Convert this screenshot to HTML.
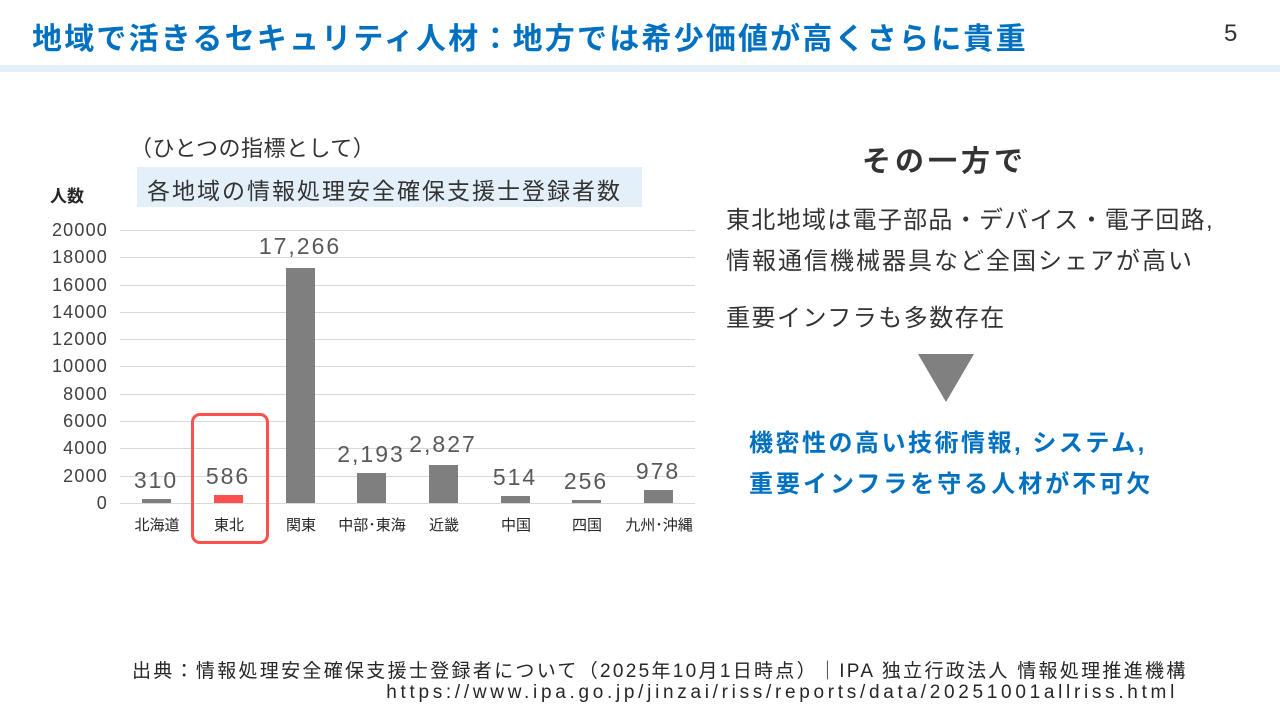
<!DOCTYPE html>
<html><head><meta charset="utf-8"><style>
body{margin:0;width:1280px;height:720px;background:#fff;position:relative;overflow:hidden;font-family:"Liberation Sans","Noto Sans CJK JP",sans-serif;}
.a{position:absolute;white-space:nowrap;}
.yl{position:absolute;right:1172px;font-size:18px;letter-spacing:1.2px;color:#404040;line-height:17px;}
.g{position:absolute;left:120px;width:575px;height:1px;background:#d9d9d9;}
.bar{position:absolute;width:29px;background:#7f7f7f;}
.v{position:absolute;width:100px;text-align:center;font-size:23px;letter-spacing:2px;color:#595959;}
.c{position:absolute;width:90px;text-align:center;font-size:15px;color:#262626;top:514px;}
</style></head><body>
<div class="a" style="left:32px;top:14px;font-size:30px;letter-spacing:2.2px;font-weight:bold;color:#0070c0;">地域で活きるセキュリティ人材：地方では希少価値が高くさらに貴重</div>
<div class="a" style="left:1224px;top:20px;font-size:24px;color:#333;">5</div>
<div class="a" style="left:0;top:65px;width:1280px;height:7px;background:#e3f0fa;"></div>

<div class="a" style="left:130px;top:131px;font-size:22px;letter-spacing:0.5px;color:#333;">（ひとつの指標として）</div>
<div class="a" style="left:137px;top:167px;width:505px;height:40px;background:#e3f0fa;"></div>
<div class="a" style="left:147px;top:172px;font-size:23px;letter-spacing:2px;color:#333;">各地域の情報処理安全確保支援士登録者数</div>
<div class="a" style="left:50px;top:182px;font-size:17px;font-weight:bold;color:#262626;">人数</div>

<div class="g" style="top:230px"></div><div class="g" style="top:257px"></div><div class="g" style="top:285px"></div><div class="g" style="top:312px"></div><div class="g" style="top:339px"></div><div class="g" style="top:366px"></div><div class="g" style="top:394px"></div><div class="g" style="top:421px"></div><div class="g" style="top:448px"></div><div class="g" style="top:476px"></div><div class="g" style="top:503px"></div>
<div class="yl" style="top:222px">20000</div><div class="yl" style="top:249px">18000</div><div class="yl" style="top:277px">16000</div><div class="yl" style="top:304px">14000</div><div class="yl" style="top:331px">12000</div><div class="yl" style="top:358px">10000</div><div class="yl" style="top:386px">8000</div><div class="yl" style="top:413px">6000</div><div class="yl" style="top:440px">4000</div><div class="yl" style="top:468px">2000</div><div class="yl" style="top:495px">0</div>

<div class="bar" style="left:142px;top:499px;height:4px"></div>
<div class="bar" style="left:214px;top:495px;height:8px;background:#ff5050"></div>
<div class="bar" style="left:286px;top:268px;height:235px"></div>
<div class="bar" style="left:357px;top:473px;height:30px"></div>
<div class="bar" style="left:429px;top:465px;height:38px"></div>
<div class="bar" style="left:501px;top:496px;height:7px"></div>
<div class="bar" style="left:572px;top:500px;height:3px"></div>
<div class="bar" style="left:644px;top:490px;height:13px"></div>

<div class="v" style="left:106px;top:467px">310</div>
<div class="v" style="left:178px;top:463px">586</div>
<div class="v" style="left:250px;top:233px">17,266</div>
<div class="v" style="left:321px;top:441px">2,193</div>
<div class="v" style="left:393px;top:431px">2,827</div>
<div class="v" style="left:465px;top:464px">514</div>
<div class="v" style="left:536px;top:468px">256</div>
<div class="v" style="left:608px;top:458px">978</div>

<div class="c" style="left:112px">北海道</div>
<div class="c" style="left:184px">東北</div>
<div class="c" style="left:256px">関東</div>
<div class="c" style="left:327px">中部･東海</div>
<div class="c" style="left:399px">近畿</div>
<div class="c" style="left:471px">中国</div>
<div class="c" style="left:542px">四国</div>
<div class="c" style="left:614px">九州･沖縄</div>
<div class="a" style="left:191px;top:413px;width:78px;height:131px;border:3px solid #ff5050;border-radius:9px;box-sizing:border-box;"></div>

<div class="a" style="left:862px;top:138px;font-size:29px;letter-spacing:4px;font-weight:bold;color:#333;">その一方で</div>
<div class="a" style="left:726px;top:200px;font-size:24px;letter-spacing:1.3px;color:#333;">東北地域は電子部品・デバイス・電子回路,</div>
<div class="a" style="left:726px;top:241px;font-size:24px;letter-spacing:2px;color:#333;">情報通信機械器具など全国シェアが高い</div>
<div class="a" style="left:726px;top:298px;font-size:24px;letter-spacing:1.5px;color:#333;">重要インフラも多数存在</div>
<svg class="a" style="left:918px;top:354px" width="56" height="48"><polygon points="0,0 56,0 28,48" fill="#808080"/></svg>
<div class="a" style="left:749px;top:423px;font-size:24px;letter-spacing:2.5px;font-weight:bold;color:#0070c0;">機密性の高い技術情報, システム,</div>
<div class="a" style="left:749px;top:464px;font-size:24px;letter-spacing:3px;font-weight:bold;color:#0070c0;">重要インフラを守る人材が不可欠</div>

<div class="a" style="left:132px;top:656px;font-size:19px;letter-spacing:2.3px;color:#262626;">出典：情報処理安全確保支援士登録者について（2025年10月1日時点）｜IPA 独立行政法人 情報処理推進機構</div>
<div class="a" style="right:102px;top:682px;font-size:19px;letter-spacing:3.7px;color:#262626;">https://www.ipa.go.jp/jinzai/riss/reports/data/20251001allriss.html</div>
</body></html>
